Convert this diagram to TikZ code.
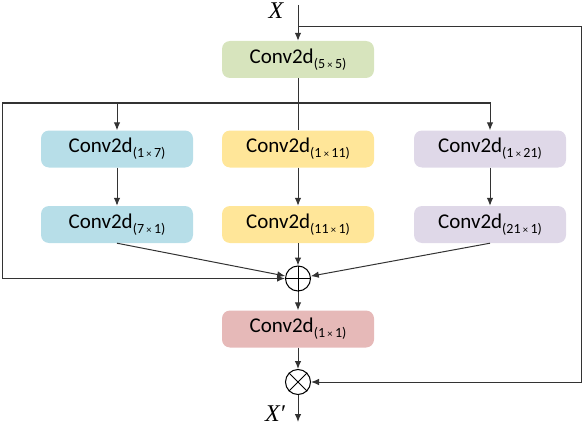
\documentclass[tikz,border=0pt]{standalone}
\usepackage{fontspec}
\setmainfont{Carlito}
\newfontfamily\timesfont{Liberation Serif}
\usetikzlibrary{arrows.meta}
\definecolor{cgreen}{HTML}{D7E4BD}
\definecolor{cblue}{HTML}{B7DEE8}
\definecolor{cyellow}{HTML}{FFE699}
\definecolor{cpurple}{HTML}{DFD8E8}
\definecolor{cpink}{HTML}{E6B9B8}
\definecolor{lnc}{HTML}{333333}
\newcommand{\tmsign}{\,{\fontsize{10.5}{10.5}\selectfont ×}\,}
\newcommand{\convlabel}[1]{Conv2d\raisebox{-5pt}{\fontsize{14}{14}\selectfont(#1)}}
\tikzset{
  convbox/.style={rounded corners=8pt, minimum width=152pt, minimum height=37pt, inner sep=0pt, font=\fontsize{21}{24}\selectfont},
  opnode/.style={circle, draw=black, line width=1pt, minimum size=25pt, inner sep=0pt},
  link/.style={draw=lnc, line width=1pt},
  arr/.style={link, -{Latex[length=8pt,width=6.5pt]}},
  varlabel/.style={font=\timesfont\itshape\fontsize{24}{24}\selectfont, inner sep=0pt},
}
\begin{document}
\begin{tikzpicture}[x=1pt,y=-1pt]
\useasboundingbox (0,0) rectangle (584,428);
% nodes
\node[varlabel] (xin) at (276,11) {X};
\coordinate (top) at (298,5);
\node[convbox, fill=cgreen] (c5) at (298,59.5) {\convlabel{5\tmsign 5}};
\node[convbox, fill=cblue] (l1) at (117,149) {\convlabel{1\tmsign 7}};
\node[convbox, fill=cyellow] (m1) at (298,149) {\convlabel{1\tmsign 11}};
\node[convbox, fill=cpurple] (r1) at (490,149) {\convlabel{1\tmsign 21}};
\node[convbox, fill=cblue] (l2) at (117,224.5) {\convlabel{7\tmsign 1}};
\node[convbox, fill=cyellow] (m2) at (298,224.5) {\convlabel{11\tmsign 1}};
\node[convbox, fill=cpurple] (r2) at (490,224.5) {\convlabel{21\tmsign 1}};
\node[opnode] (plus) at (298,278.5) {};
\draw[line width=1pt] (plus.north) -- (plus.south) (plus.west) -- (plus.east);
\node[convbox, fill=cpink] (c1) at (298,329) {\convlabel{1\tmsign 1}};
\node[opnode] (times) at (298,382) {};
\draw[line width=1pt] (times.north west) -- (times.south east) (times.north east) -- (times.south west);
\coordinate (out) at (298,422);
\node[varlabel] (xout) at (275,414) {X′};
% helper coordinates
\coordinate (branch) at (298,27);
\coordinate (rtop) at (581,27);
\coordinate (split) at (298,103);
\coordinate (sl) at (2,103);
% connectors
\draw[arr] (top) -- (c5.north);
\draw[arr] (branch) -- (rtop) |- (times.east);
\draw[link] (c5.south) -- (m1.north);
\draw[arr] (sl) -| (r1.north);
\draw[arr] (l1.north |- split) -- (l1.north);
\draw[arr] (sl) |- (plus.west);
\draw[arr] (l1) -- (l2);
\draw[arr] (m1) -- (m2);
\draw[arr] (r1) -- (r2);
\draw[arr] (l2.south) -- (plus);
\draw[arr] (m2.south) -- (plus.north);
\draw[arr] (r2.south) -- (plus);
\draw[arr] (plus.south) -- (c1.north);
\draw[arr] (c1.south) -- (times.north);
\draw[arr] (times.south) -- (out);
\end{tikzpicture}
\end{document}
